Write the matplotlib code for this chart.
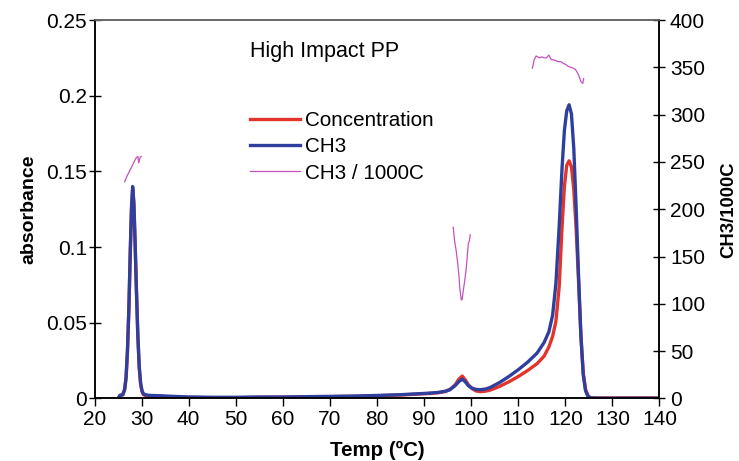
import matplotlib
matplotlib.use('Agg')
import matplotlib.pyplot as plt
import numpy as np

plt.rcParams['font.family'] = ['Liberation Sans', 'DejaVu Sans']

# Temperature grid (deg C) for the two absorbance traces
temp = [25.0, 25.4, 26.0, 26.4, 26.7, 27.0, 27.3, 27.6, 27.85, 28.1, 28.35, 28.6,
        28.9, 29.2, 29.5, 29.8, 30.1, 30.4, 30.8, 31.3, 32, 34, 36, 40, 45, 50, 55,
        60, 65, 70, 75, 80, 85, 88, 91, 93, 94.5, 95.5, 96.6, 97.4, 98.1, 98.7, 99.4,
        100.2, 101, 102, 103, 104, 106, 108, 110, 112, 114, 115.5, 116.5, 117.3, 118,
        118.7, 119.3, 119.8, 120.3, 120.8, 121.3, 121.8, 122.3, 122.8, 123.3, 123.8,
        124.3, 124.8, 125.3, 126, 128, 132, 136, 140]

ch3 = [0.0, 0.002, 0.0025, 0.006, 0.014, 0.032, 0.060, 0.098, 0.126, 0.140, 0.130, 0.106,
       0.072, 0.042, 0.021, 0.010, 0.005, 0.003, 0.0025, 0.0022, 0.002, 0.0018, 0.0015,
       0.001, 0.0008, 0.0008, 0.001, 0.001, 0.0012, 0.0014, 0.0016, 0.002, 0.0025, 0.003,
       0.0035, 0.004, 0.0048, 0.0058, 0.0085, 0.0112, 0.0128, 0.0112, 0.0085, 0.0068,
       0.006, 0.0058, 0.0062, 0.0072, 0.0105, 0.0145, 0.019, 0.024, 0.030, 0.037, 0.044,
       0.055, 0.076, 0.114, 0.152, 0.177, 0.190, 0.194, 0.188, 0.165, 0.126, 0.082,
       0.042, 0.016, 0.005, 0.0015, 0.0005, 0.0003, 0.0002, 0.0002, 0.0002, 0.0002]

concentration = [0.0, 0.002, 0.0025, 0.0058, 0.0135, 0.031, 0.059, 0.097, 0.124, 0.138, 0.128,
                 0.104, 0.071, 0.041, 0.020, 0.009, 0.0045, 0.0025, 0.002, 0.0018, 0.0015,
                 0.0012, 0.001, 0.0007, 0.0005, 0.0005, 0.0007, 0.0008, 0.001, 0.0012,
                 0.0014, 0.0018, 0.0023, 0.0028, 0.0033, 0.0038, 0.0046, 0.006, 0.009,
                 0.0128, 0.0148, 0.0125, 0.009, 0.0065, 0.005, 0.0045, 0.0048, 0.0055,
                 0.0079, 0.011, 0.0145, 0.0185, 0.023, 0.028, 0.034, 0.041, 0.051, 0.074,
                 0.113, 0.140, 0.154, 0.157, 0.153, 0.138, 0.112, 0.078, 0.042, 0.017,
                 0.006, 0.002, 0.0005, 0.0003, 0.0003, 0.0003, 0.0003, 0.0003]

# CH3 / 1000C, only shown across the three peaks
ratio_t1 = [26.4, 26.8, 27.2, 27.6, 27.9, 28.3, 28.8, 29.2, 29.4, 29.7, 29.9]
ratio_v1 = [229, 234, 238, 242, 245, 249, 254, 256, 249, 255, 256]
ratio_t2 = [96.2, 96.3, 96.5, 96.8, 97.1, 97.4, 97.6, 97.9, 98.1, 98.3, 98.7, 99.0,
            99.2, 99.4, 99.6, 99.8]
ratio_v2 = [181, 175, 166, 157, 145, 130, 116, 104, 105, 113, 127, 140, 152, 164, 166, 173]
ratio_t3 = [113.0, 113.4, 113.8, 114.5, 115.0, 115.5, 116.0, 116.5, 117.0, 117.5, 118.0,
            118.5, 119.1, 119.6, 120.1, 120.6, 121.2, 121.7, 122.1, 122.5, 122.8, 123.1,
            123.3, 123.5, 123.7, 123.9]
ratio_v3 = [349, 358, 362, 360, 361, 360, 360, 363, 358, 358, 357, 356, 356, 354, 353,
            351, 350, 349, 348, 345, 342, 338, 335, 334, 333, 338]

red = '#e3342b'
blue = '#2f3f9e'
magenta = '#c452bd'

fig = plt.figure(figsize=(7.39, 4.61), dpi=100)
ax = fig.add_axes([0.1279, 0.1356, 0.7645, 0.821])
ax2 = ax.twinx()

l1, = ax.plot(temp, concentration, color=red, lw=2.4, label='Concentration')
l2, = ax.plot(temp, ch3, color=blue, lw=2.4, label='CH3')
l3, = ax2.plot(ratio_t1, ratio_v1, color=magenta, lw=0.9, label='CH3 / 1000C')
ax2.plot(ratio_t2, ratio_v2, color=magenta, lw=0.9)
ax2.plot(ratio_t3, ratio_v3, color=magenta, lw=0.9)

ax.set_xlim(20, 140)
ax.set_ylim(0, 0.25)
ax2.set_ylim(0, 400)
ax.set_xticks(np.arange(20, 141, 10))
ax.set_yticks([0, 0.05, 0.1, 0.15, 0.2, 0.25])
ax.set_yticklabels(['0', '0.05', '0.1', '0.15', '0.2', '0.25'])
ax2.set_yticks(np.arange(0, 401, 50))

ax.tick_params(axis='x', direction='out', length=6, width=1, labelsize=15, pad=2)
ax.tick_params(axis='y', direction='inout', length=9, width=1, labelsize=15, pad=1)
ax2.tick_params(axis='y', direction='inout', length=9, width=1, labelsize=15, pad=3)

for a in (ax, ax2):
    a.spines['top'].set_color('#666666')
    a.spines['top'].set_linewidth(1.2)
    for s in ('left', 'right', 'bottom'):
        a.spines[s].set_linewidth(1.1)

ax.set_xlabel('Temp (ºC)', fontsize=14.8, fontweight='bold', labelpad=9)
ax.set_ylabel('absorbance', fontsize=14, fontweight='bold', labelpad=6)
ax2.set_ylabel('CH3/1000C', fontsize=13.3, fontweight='bold', labelpad=11)

ax.text(0.276, 0.916, 'High Impact PP', transform=ax.transAxes, fontsize=15.5,
        ha='left', va='center')

ax2.legend(handles=[l1, l2, l3], loc='upper left', bbox_to_anchor=(0.268, 0.771),
           frameon=False, fontsize=14.9, handlelength=2.4, handletextpad=0.25,
           labelspacing=0.36, borderaxespad=0, borderpad=0.2)

fig.savefig('out.png', dpi=100)
